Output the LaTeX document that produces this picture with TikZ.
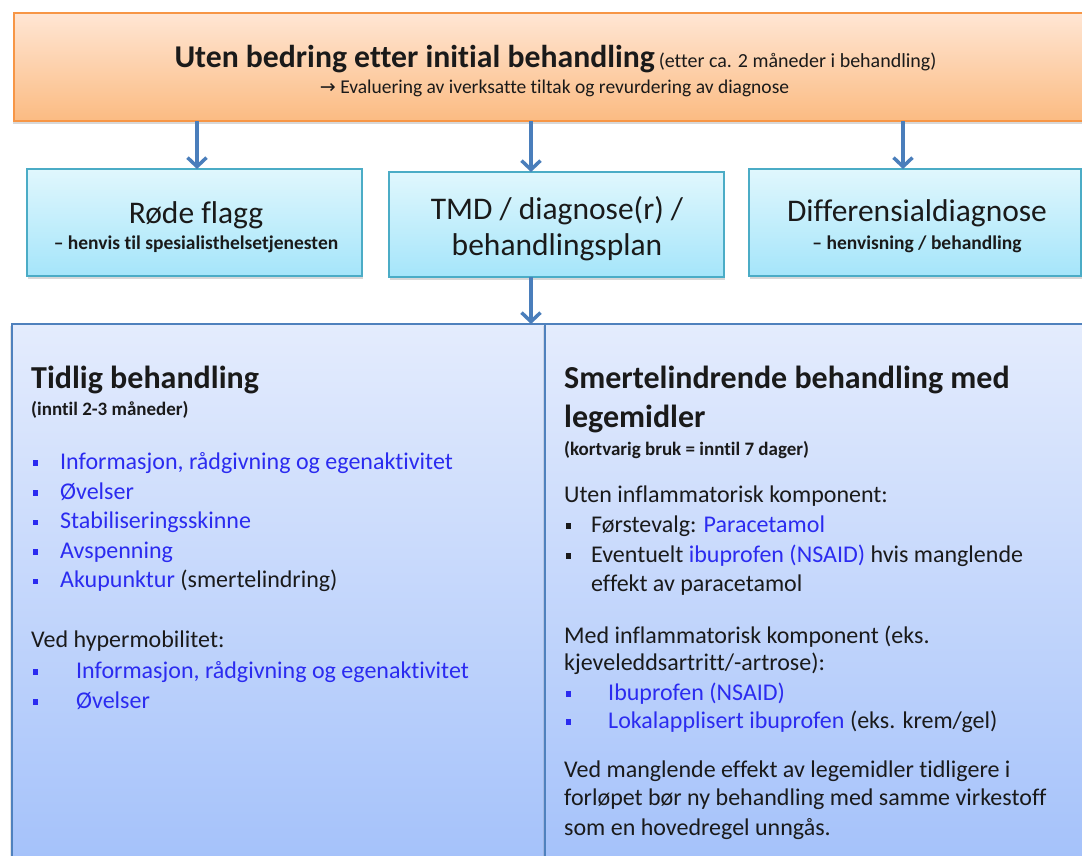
\documentclass[tikz,border=0pt]{standalone}
\usepackage{fontspec}
\setmainfont{Carlito}[Ligatures=NoCommon]
\newfontfamily\arrowfont{DejaVu Sans}
\usetikzlibrary{arrows.meta,shadows}
\definecolor{orbord}{HTML}{F79646}
\definecolor{ortop}{HTML}{FFE6D4}
\definecolor{orbot}{HTML}{FBBB82}
\definecolor{cybord}{HTML}{4BACC6}
\definecolor{cytop}{HTML}{E0F7FD}
\definecolor{cybot}{HTML}{A5E5FA}
\definecolor{blbord}{HTML}{4F81BD}
\definecolor{bltop}{HTML}{E4ECFD}
\definecolor{blbot}{HTML}{A2C0FA}
\definecolor{arrcol}{HTML}{4A7EBB}
\definecolor{bluetxt}{HTML}{2B2BF0}
\definecolor{darktxt}{HTML}{1A1A1A}
\begin{document}
\begin{tikzpicture}[x=1pt,y=-1pt,
  box/.style={rectangle, inner sep=0pt, outer sep=0pt, anchor=north west, line width=1.5pt},
  topbox/.style={box, draw=orbord, top color=ortop, bottom color=orbot,
    drop shadow={shadow xshift=-1pt, shadow yshift=-3pt, opacity=.3}},
  cybox/.style={box, draw=cybord, top color=cytop, bottom color=cybot,
    drop shadow={shadow xshift=1pt, shadow yshift=-3pt, opacity=.3}},
  panel/.style={box, draw=blbord, line width=1.2pt, top color=bltop, bottom color=blbot,
    drop shadow={shadow xshift=-2pt, shadow yshift=-2pt, opacity=.2}},
  arr/.style={draw=arrcol, line width=3.5pt, -{Straight Barb[length=9pt,width=19pt]}},
  bodyt/.style={inner sep=0pt, anchor=base west, text=darktxt, font=\fontsize{24}{29}\selectfont},
  bt/.style={bodyt, text=bluetxt},
  head/.style={inner sep=0pt, anchor=base west, text=darktxt, font=\bfseries\fontsize{32}{39}\selectfont},
  small/.style={inner sep=0pt, anchor=base west, text=darktxt, font=\bfseries\fontsize{19}{23}\selectfont},
  btitle/.style={inner sep=0pt, anchor=base, text=darktxt, font=\fontsize{31.5}{38}\selectfont},
  bsub/.style={inner sep=0pt, anchor=base, text=darktxt, font=\bfseries\fontsize{19.5}{23}\selectfont},
  bul/.style={rectangle, fill=#1, minimum size=5.5pt, inner sep=0pt, outer sep=0pt}
]
\clip (0,0) rectangle (1082,855);
\fill[white] (0,0) rectangle (1082,855);

% top box
\node[topbox, minimum width=1080pt, minimum height=108pt] (top) at (14,13) {};
\node[inner sep=0pt, anchor=base, text=darktxt, font=\bfseries\fontsize{31.7}{37}\selectfont] (toptitle) at (555.5,67)
  {Uten bedring etter initial behandling\hspace{4pt}{\mdseries\fontsize{20}{23}\selectfont(etter ca. 2 måneder i behandling)}};
\node[inner sep=0pt, anchor=base, text=darktxt, font=\fontsize{19.5}{23}\selectfont] (topsub) at (554.5,93)
  {{\arrowfont\fontsize{19}{22}\selectfont →}\ Evaluering av iverksatte tiltak og revurdering av diagnose};

% middle boxes
\node[cybox, minimum width=335pt, minimum height=107pt] (rode) at (27,169) {};
\node[cybox, minimum width=335pt, minimum height=105pt] (tmd) at (389,172) {};
\node[cybox, minimum width=332pt, minimum height=107pt] (diff) at (749,169) {};

\node[btitle] (rodeT) at (196,223) {Røde flagg};
\node[bsub] (rodeS) at (196,249) {– henvis til spesialisthelsetjenesten};
\node[btitle] (tmdT1) at (557,219) {TMD / diagnose(r) /};
\node[btitle] (tmdT2) at (557,255) {behandlingsplan};
\node[btitle] (diffT) at (917,221) {Differensialdiagnose};
\node[bsub] (diffS) at (917,249) {– henvisning / behandling};

% panels
\node[panel, minimum width=533pt, minimum height=560pt] (left) at (12,324) {};
\node[panel, minimum width=550pt, minimum height=560pt] (right) at (545,324) {};

% arrows
\draw[arr] (197,0 |- top.south) -- (197,0 |- rode.north);
\draw[arr] (531,0 |- top.south) -- (531,0 |- tmd.north);
\draw[arr] (903,0 |- top.south) -- (903,0 |- diff.north);
\draw[arr] (531,0 |- tmd.south) -- (531,0 |- left.north);

% left panel
\node[head] (lh) at (31,388) {Tidlig behandling};
\node[small] (ls) at (31,415) {(inntil 2-3 måneder)};
\node[bul=bluetxt] (lb1) at (35.5,463) {};
\node[bt] (l1) at (60,469) {Informasjon, rådgivning og egenaktivitet};
\node[bul=bluetxt] (lb2) at (35.5,493) {};
\node[bt] (l2) at (60,499) {Øvelser};
\node[bul=bluetxt] (lb3) at (35.5,522.5) {};
\node[bt] (l3) at (60,528.5) {Stabiliseringsskinne};
\node[bul=bluetxt] (lb4) at (35.5,552) {};
\node[bt] (l4) at (60,558) {Avspenning};
\node[bul=bluetxt] (lb5) at (35.5,581.5) {};
\node[bt] (l5) at (60,587.5) {Akupunktur \textcolor{darktxt}{(smertelindring)}};
\node[bodyt] (lv) at (31,647) {Ved hypermobilitet:};
\node[bul=bluetxt] (lb6) at (35.5,672) {};
\node[bt] (l6) at (76,678) {Informasjon, rådgivning og egenaktivitet};
\node[bul=bluetxt] (lb7) at (35.5,702) {};
\node[bt] (l7) at (76,708) {Øvelser};

% right panel
\node[head] (rh1) at (564,388) {Smertelindrende behandling med};
\node[head] (rh2) at (564,427) {legemidler};
\node[small] (rs) at (564,455) {(kortvarig bruk = inntil 7 dager)};
\node[bodyt] (ru) at (564,502) {Uten inflammatorisk komponent:};
\node[bul=darktxt] (rb1) at (568.5,526) {};
\node[bodyt] (r1) at (591,532) {Førstevalg: \textcolor{bluetxt}{Paracetamol}};
\node[bul=darktxt] (rb2) at (568.5,556) {};
\node[bodyt] (r2) at (591,562) {Eventuelt \textcolor{bluetxt}{ibuprofen (NSAID)} hvis manglende};
\node[bodyt] (r3) at (591,591) {effekt av paracetamol};
\node[bodyt] (rm1) at (564,643) {Med inflammatorisk komponent (eks.};
\node[bodyt] (rm2) at (564,670) {kjeveleddsartritt/-artrose):};
\node[bul=bluetxt] (rb3) at (568.5,694) {};
\node[bt] (r4) at (608,700) {Ibuprofen (NSAID)};
\node[bul=bluetxt] (rb4) at (568.5,722) {};
\node[bodyt] (r5) at (608,728) {\textcolor{bluetxt}{Lokalapplisert ibuprofen} (eks. krem/gel)};
\node[bodyt] (rv1) at (564,777) {Ved manglende effekt av legemidler tidligere i};
\node[bodyt] (rv2) at (564,805) {forløpet bør ny behandling med samme virkestoff};
\node[bodyt] (rv3) at (564,835) {som en hovedregel unngås.};
\end{tikzpicture}
\end{document}
